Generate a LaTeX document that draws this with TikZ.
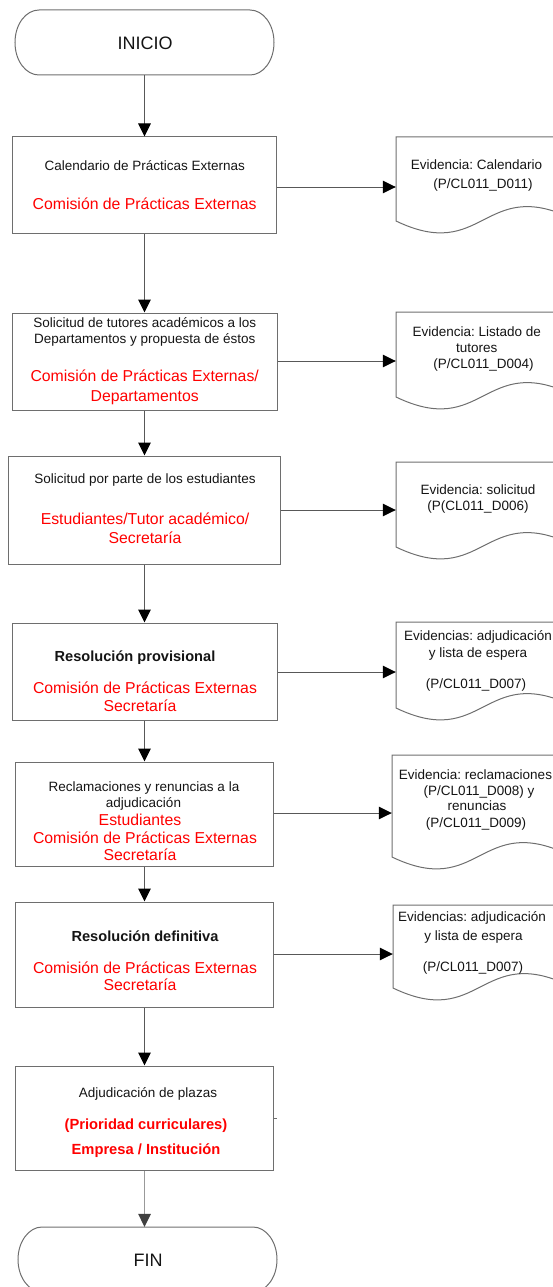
\documentclass[tikz,border=0pt]{standalone}
\usepackage{fontspec}
\setmainfont{Liberation Sans}
\frenchspacing
\usetikzlibrary{arrows.meta}
\definecolor{lin}{HTML}{585858}
\definecolor{brd}{HTML}{6E6E6E}
\definecolor{txt}{HTML}{141414}
\definecolor{rojo}{HTML}{FF0000}
\newcommand\docoutline[3]{\draw[docline] (#1,#2) -- (#1+175,#2) -- (#1+175,#3-3) .. controls (#1+87.5,#3-44) and (#1+87.5,#3+42) .. (#1,#3) -- cycle;}
\begin{document}
\begin{tikzpicture}[x=1pt,y=-1pt,
  boxnode/.style={draw=brd,line width=1pt,rectangle,inner sep=0pt},
  ghost/.style={rectangle,inner sep=0pt,draw=none},
  docline/.style={draw=brd,line width=1pt},
  arr/.style={draw=lin,line width=1pt,-{Triangle[length=13pt,width=12.5pt,color=black]}},
  arrlast/.style={draw=black!40,line width=1.6pt,-{Triangle[length=13pt,width=12.5pt,color=black!75]}},
  tb/.style={anchor=base,inner sep=0pt,text=txt,font=\fontsize{13.5}{16}\selectfont},
  bd/.style={anchor=base,inner sep=0pt,text=txt,font=\fontsize{14.6}{17}\selectfont\bfseries},
  rd/.style={anchor=base,inner sep=0pt,text=rojo,font=\fontsize{15.8}{19}\selectfont},
  rb/.style={anchor=base,inner sep=0pt,text=rojo,font=\fontsize{14.7}{17}\selectfont\bfseries},
  big/.style={anchor=base,inner sep=0pt,text=txt,font=\fontsize{18}{21}\selectfont}]
\useasboundingbox (0,0) rectangle (552,1287);

% terminals
\node[ghost,minimum width=259pt,minimum height=65pt] (ini) at (144.5,42.5) {};
\draw[docline] (39,10) -- (250,10) .. controls (263,10) and (274,24) .. (274,42.5) .. controls (274,61) and (263,75) .. (250,75) -- (39,75) .. controls (26,75) and (15,61) .. (15,42.5) .. controls (15,24) and (26,10) .. (39,10) -- cycle;
\node[big] (init) at (145,49.2) {INICIO};

\node[ghost,minimum width=259pt,minimum height=65pt] (fin) at (147.5,1259.5) {};
\draw[docline] (42,1227) -- (253,1227) .. controls (266,1227) and (277,1241.5) .. (277,1259.5) .. controls (277,1277.5) and (266,1292) .. (253,1292) -- (42,1292) .. controls (29,1292) and (18,1277.5) .. (18,1259.5) .. controls (18,1241.5) and (29,1227) .. (42,1227) -- cycle;
\node[big] (fint) at (148,1266) {FIN};

% process boxes
\node[boxnode,minimum width=264pt,minimum height=96pt] (b1) at (144.5,185) {};
\node[boxnode,minimum width=265pt,minimum height=97pt] (b2) at (144.5,361.5) {};
\node[boxnode,minimum width=271.5pt,minimum height=108pt] (b3) at (144.5,510) {};
\node[boxnode,minimum width=265pt,minimum height=97pt] (b4) at (144.5,671.5) {};
\node[boxnode,minimum width=258pt,minimum height=104pt] (b5) at (144.5,814) {};
\node[boxnode,minimum width=258pt,minimum height=105pt] (b6) at (144.5,954.5) {};
\node[boxnode,minimum width=258pt,minimum height=104pt] (b7) at (144.5,1118) {};

% box texts
\node[tb] (b1a) at (144.7,170.7) {Calendario de Prácticas Externas};
\node[rd] (b1b) at (144.7,209.5) {Comisión de Prácticas Externas};

\node[tb] (b2a) at (144.7,327.7) {Solicitud de tutores académicos a los};
\node[tb] (b2b) at (144.7,343.5) {Departamentos y propuesta de éstos};
\node[rd] (b2c) at (144.7,381.5) {Comisión de Prácticas Externas/};
\node[rd] (b2d) at (144.7,401.5) {Departamentos};

\node[tb] (b3a) at (145,483.5) {Solicitud por parte de los estudiantes};
\node[rd] (b3b) at (145,524.5) {Estudiantes/Tutor académico/};
\node[rd] (b3c) at (145,543.5) {Secretaría};

\node[bd] (b4a) at (135,661) {Resolución provisional};
\node[rd] (b4b) at (145,693.5) {Comisión de Prácticas Externas};
\node[rd] (b4c) at (140,711.5) {Secretaría};

\node[tb] (b5a) at (144,791.5) {Reclamaciones y renuncias a la};
\node[tb] (b5b) at (143.5,807.5) {adjudicación};
\node[rd] (b5c) at (140,825.5) {Estudiantes};
\node[rd] (b5d) at (145,843.5) {Comisión de Prácticas Externas};
\node[rd] (b5e) at (140,860.5) {Secretaría};

\node[bd] (b6a) at (145,941) {Resolución definitiva};
\node[rd] (b6b) at (145,973.5) {Comisión de Prácticas Externas};
\node[rd] (b6c) at (140,990.5) {Secretaría};

\node[tb] (b7a) at (148,1097.7) {Adjudicación de plazas};
\node[rb] (b7b) at (146,1129) {(Prioridad curriculares)};
\node[rb] (b7c) at (146,1154) {Empresa / Institución};

% documents
\node[ghost,minimum width=175pt,minimum height=100pt] (d1) at (483.5,187) {};
\docoutline{396}{137}{221}
\node[ghost,minimum width=175pt,minimum height=98pt] (d2) at (483.5,361) {};
\docoutline{396}{312}{397}
\node[ghost,minimum width=175pt,minimum height=96pt] (d3) at (483.5,510) {};
\docoutline{396}{462}{547}
\node[ghost,minimum width=175pt,minimum height=100pt] (d4) at (483.5,672) {};
\docoutline{396}{622}{708}
\node[ghost,minimum width=175pt,minimum height=116pt] (d5) at (479.5,813) {};
\docoutline{392}{755}{857}
\node[ghost,minimum width=175pt,minimum height=98pt] (d6) at (480.5,954) {};
\docoutline{393}{905}{988}

% document texts
\node[tb] (d1a) at (476.5,169.7) {Evidencia: Calendario};
\node[tb] (d1b) at (483,188) {(P/CL011\_D011)};

\node[tb] (d2a) at (476.7,336.7) {Evidencia: Listado de};
\node[tb] (d2b) at (476.7,352.4) {tutores};
\node[tb] (d2c) at (483.5,368.7) {(P/CL011\_D004)};

\node[tb] (d3a) at (478,494.7) {Evidencia: solicitud};
\node[tb] (d3b) at (478,510.7) {(P(CL011\_D006)};

\node[tb] (d4a) at (478,640.4) {Evidencias: adjudicación};
\node[tb] (d4b) at (478,657.5) {y lista de espera};
\node[tb] (d4c) at (476,688) {(P/CL011\_D007)};

\node[tb] (d5a) at (475.5,779.7) {Evidencia: reclamaciones};
\node[tb] (d5b) at (479,795) {(P/CL011\_D008) y};
\node[tb] (d5c) at (477,810.7) {renuncias};
\node[tb] (d5d) at (476,827) {(P/CL011\_D009)};

\node[tb] (d6a) at (472,921.4) {Evidencias: adjudicación};
\node[tb] (d6b) at (473.5,940) {y lista de espera};
\node[tb] (d6c) at (473,971.5) {(P/CL011\_D007)};

% connectors
\draw[arr] (ini.south) -- (b1.north);
\draw[arr] (b1.south) -- (b2.north);
\draw[arr] (b2.south) -- (b3.north);
\draw[arr] (b3.south) -- (b4.north);
\draw[arr] (b4.south) -- (b5.north);
\draw[arr] (b5.south) -- (b6.north);
\draw[arr] (b6.south) -- (b7.north);
\draw[arrlast] (b7.south) -- (b7.south |- fin.north);

\draw[arr] (b1.east |- d1.west) -- (d1.west);
\draw[arr] (b2.east |- d2.west) -- (d2.west);
\draw[arr] (b3.east |- d3.west) -- (d3.west);
\draw[arr] (b4.east |- d4.west) -- (d4.west);
\draw[arr] (b5.east |- d5.west) -- (d5.west);
\draw[arr] (b6.east |- d6.west) -- (d6.west);

\draw[draw=brd,line width=0.8pt] (b7.east) -- ++(3,0);
\end{tikzpicture}
\end{document}
